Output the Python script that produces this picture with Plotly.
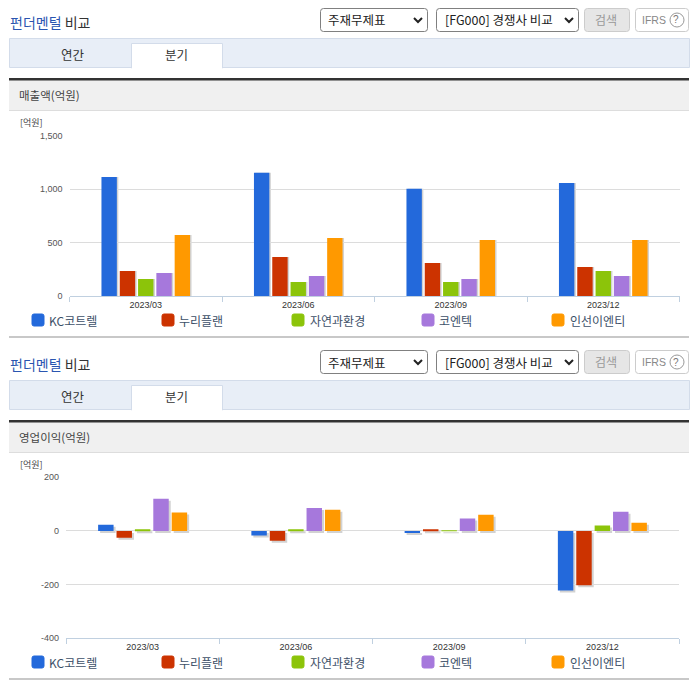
import plotly.graph_objects as go

W, H = 696, 684
KR = "Noto Sans CJK KR"
LATIN = "Liberation Sans, Noto Sans CJK KR"

quarters = ["2023/03", "2023/06", "2023/09", "2023/12"]
companies = ["KC코트렐", "누리플랜", "자연과환경", "코엔텍", "인선이엔티"]
colors = ["#2369db", "#cc3300", "#8cc40a", "#a678dc", "#ff9900"]

sales_kc = [1112, 1152, 1003, 1056]
sales_nuri = [236, 366, 310, 273]
sales_jayeon = [161, 134, 134, 236]
sales_koentec = [217, 189, 161, 189]
sales_insun = [571, 543, 525, 525]

profit_kc = [23, -17, -8, -222]
profit_nuri = [-25, -36, 5, -202]
profit_jayeon = [4, 5, 2, 20]
profit_koentec = [120, 86, 46, 72]
profit_insun = [69, 79, 60, 31]

sales = [sales_kc, sales_nuri, sales_jayeon, sales_koentec, sales_insun]
profit = [profit_kc, profit_nuri, profit_jayeon, profit_koentec, profit_insun]

sales_ticks = [0, 500, 1000, 1500]
sales_labels = ["0", "500", "1,000", "1,500"]
profit_ticks = [-400, -200, 0, 200]
profit_labels = ["-400", "-200", "0", "200"]


def px(x):
    return x / W


def py(y):
    return 1 - y / H


shapes = []
annotations = []


def rect(x0, y0, x1, y1, fill, line=None, r=0):
    a, b, c, d = px(x0), py(y0), px(x1), py(y1)
    if r:
        rx, ry = r / W, r / H
        path = (f"M {a+rx} {b} L {c-rx} {b} Q {c} {b} {c} {b-ry} L {c} {d+ry} Q {c} {d} {c-rx} {d} "
                f"L {a+rx} {d} Q {a} {d} {a} {d+ry} L {a} {b-ry} Q {a} {b} {a+rx} {b} Z")
        shapes.append(dict(type="path", xref="paper", yref="paper", path=path, fillcolor=fill,
                           line=dict(color=line or fill, width=1), layer="below"))
    else:
        shapes.append(dict(type="rect", xref="paper", yref="paper", x0=a, y0=b, x1=c, y1=d, fillcolor=fill,
                           line=dict(color=line or fill, width=1 if line else 0), layer="below"))


def label(x, y, text, size=12, color="#333333", anchor="left", font=KR):
    annotations.append(dict(xref="paper", yref="paper", x=px(x), y=py(y), text=text, showarrow=False,
                            xanchor=anchor, yanchor="middle", xshift=-1, align="left",
                            borderpad=0, font=dict(family=font, size=size, color=color)))


def chevron(x, y):
    shapes.append(dict(type="path", xref="paper", yref="paper",
                       path=f"M {px(x-4)} {py(y-2)} L {px(x)} {py(y+2)} L {px(x+4)} {py(y-2)}",
                       line=dict(color="#222222", width=2), layer="below"))


def panel(top, name):
    # top = y offset of the panel, everything below hangs from it
    label(10, top + 22, "<span style='color:#2a55b0'>펀더멘털</span> 비교", size=14)
    rect(320.5, top + 8.5, 427.5, top + 31.5, "#ffffff", "#808080", 3)
    label(328, top + 20, "주재무제표", size=12.5, color="#222222")
    chevron(418, top + 20)
    rect(436.5, top + 8.5, 578.5, top + 31.5, "#ffffff", "#808080", 3)
    label(445, top + 20, "[FG000] 경쟁사 비교", size=12.5, color="#222222")
    chevron(569, top + 20)
    rect(584.5, top + 8.5, 629.5, top + 31.5, "#e6e6e6", "#cccccc", 3)
    label(607, top + 19, "검색", size=12, color="#999999", anchor="center")
    rect(635.5, top + 8.5, 688.5, top + 31.5, "#ffffff", "#cccccc", 3)
    label(642, top + 20, "IFRS", size=10.5, color="#888888", font=LATIN)
    label(677, top + 20, "?", size=10, color="#777777", anchor="center", font=LATIN)
    shapes.append(dict(type="circle", xref="paper", yref="paper", x0=px(670), x1=px(684),
                       y0=py(top + 27), y1=py(top + 13), line=dict(color="#999999", width=1), layer="below"))
    # tabs
    rect(9.5, top + 38.5, 689.5, top + 67.5, "#e8eef7", "#d3dcea")
    rect(131.5, top + 43.5, 222.5, top + 68, "#ffffff", "#d3dcea")
    rect(132, top + 60, 222, top + 69, "#ffffff")
    label(74, top + 54, "연간", size=12.5, anchor="center")
    label(177, top + 54, "분기", size=12.5, anchor="center")
    # heading band
    rect(9, top + 80, 689, top + 110, "#f0f0f0")
    rect(9, top + 78, 689, top + 80.5, "#333333")
    rect(9, top + 110, 689, top + 111, "#dddddd")
    label(19, top + 95, name, size=11.5, color="#444444")
    label(20, top + 122.5, "[억원]", size=9, color="#444444")


panel(0, "매출액(억원)")
panel(342, "영업이익(억원)")

# legends, one row per chart
for row_y, end_y in [(320, 337), (662, 679)]:
    for mark_x, text_x, name, color in zip([32, 162, 292, 422, 552], [49, 179, 310, 439, 570], companies, colors):
        rect(mark_x, row_y - 6, mark_x + 12, row_y + 6, color, None, 2)
        label(text_x, row_y, name, size=12, color="#3d5068")
    rect(9, end_y - 1, 689, end_y + 1, "#c8c8c8")

fig = go.Figure()

# shadow subplot first, so the real bars land on top
for values, name in zip(sales, companies):
    fig.add_trace(go.Bar(x=quarters, y=values, name=name, marker=dict(color="#d2d2d2", line_width=0),
                         xaxis="x", yaxis="y", showlegend=False, hoverinfo="skip"))
for values, name, color in zip(sales, companies, colors):
    fig.add_trace(go.Bar(x=quarters, y=values, name=name, marker=dict(color=color, line_width=0),
                         xaxis="x2", yaxis="y2", showlegend=False))
for values, name in zip(profit, companies):
    fig.add_trace(go.Bar(x=quarters, y=values, name=name, marker=dict(color="#d2d2d2", line_width=0),
                         xaxis="x3", yaxis="y3", showlegend=False, hoverinfo="skip"))
for values, name, color in zip(profit, companies, colors):
    fig.add_trace(go.Bar(x=quarters, y=values, name=name, marker=dict(color=color, line_width=0),
                         xaxis="x4", yaxis="y4", showlegend=False))

tick_font = dict(family=LATIN, size=9, color="#555555")
grid = "#dcdcdc"
axis_line = "#c0d0e0"


def hidden_x(x0, x1, anchor):
    return dict(domain=[px(x0), px(x1)], anchor=anchor, visible=False, type="category",
                categoryorder="array", categoryarray=quarters, range=[-0.5, 3.5])


def shown_x(x0, x1, anchor):
    return dict(domain=[px(x0), px(x1)], anchor=anchor, type="category", categoryorder="array",
                categoryarray=quarters, range=[-0.5, 3.5], tickson="boundaries", ticks="outside",
                ticklen=5, tickcolor=axis_line, showline=True, linecolor=axis_line, linewidth=1,
                showgrid=False, tickfont=dict(family=LATIN, size=9, color="#333333"), ticklabelstandoff=0)


def hidden_y(y0, y1, rng, anchor):
    return dict(domain=[py(y0), py(y1)], anchor=anchor, visible=False, range=rng)


def shown_y(y0, y1, rng, vals, text, anchor):
    return dict(domain=[py(y0), py(y1)], anchor=anchor, range=rng, tickmode="array", tickvals=vals,
                ticktext=text, showgrid=True, gridcolor=grid, gridwidth=1, zeroline=False,
                tickfont=tick_font, ticks="", ticklabelstandoff=6, showline=False)


fig.update_layout(
    width=W,
    height=H,
    margin=dict(l=0, r=0, t=0, b=0, pad=0, autoexpand=False),
    paper_bgcolor="#ffffff",
    plot_bgcolor="rgba(0,0,0,0)",
    barmode="group",
    bargap=0.4,
    bargroupgap=0.16,
    showlegend=False,
    shapes=shapes,
    annotations=annotations,
    xaxis=hidden_x(71, 681, "y"),
    yaxis=hidden_y(296.3, 135.5, [0, 1500], "x"),
    xaxis2=shown_x(69.5, 679.5, "y2"),
    yaxis2=shown_y(296.3, 135.5, [0, 1500], sales_ticks, sales_labels, "x2"),
    xaxis3=hidden_x(68, 681, "y3"),
    yaxis3=hidden_y(640.3, 479.3, [-400, 200], "x3"),
    xaxis4=shown_x(66, 679, "y4"),
    yaxis4=shown_y(638.3, 477.3, [-400, 200], profit_ticks, profit_labels, "x4"),
)

fig.write_html("out.html", post_script="document.body.style.margin='0';", config=dict(displayModeBar=False))
